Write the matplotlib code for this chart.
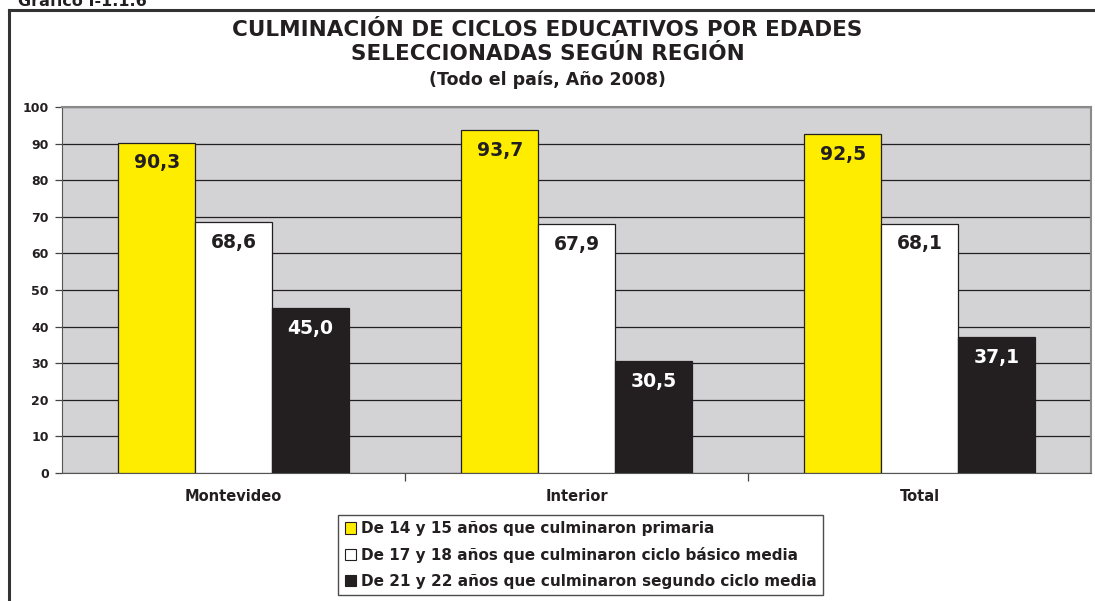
import numpy as np
import matplotlib
matplotlib.use("Agg")
import matplotlib.pyplot as plt
from matplotlib.patches import Patch
from matplotlib.lines import Line2D

plt.rcParams["font.family"] = ["DejaVu Sans"]
plt.rcParams["font.weight"] = "bold"

# datos
regiones = ["Montevideo", "Interior", "Total"]
primaria = [90.3, 93.7, 92.5]
ciclo_basico = [68.6, 67.9, 68.1]
segundo_ciclo = [45.0, 30.5, 37.1]
series_labels = [
    "De 14 y 15 años que culminaron primaria",
    "De 17 y 18 años que culminaron ciclo básico media",
    "De 21 y 22 años que culminaron segundo ciclo media",
]
yticks = list(range(0, 101, 10))

colores = ["#ffed00", "#ffffff", "#231f20"]
colores_texto = ["#231f20", "#231f20", "#ffffff"]

fig = plt.figure(figsize=(10.95, 6.01), dpi=100)
ax = fig.add_axes([62 / 1095, 1 - 473 / 601, (1091 - 62) / 1095, (473 - 107) / 601])

# marco exterior (solo se ven borde superior e izquierdo)
fig.add_artist(Line2D([9 / 1095, 1.0], [1 - 10 / 601] * 2, color="#333333", lw=2.2,
                      transform=fig.transFigure))
fig.add_artist(Line2D([9 / 1095] * 2, [0.0, 1 - 10 / 601], color="#333333", lw=2.2,
                      transform=fig.transFigure))
fig.text(18 / 1095, 1 - 1 / 601, "Gráfico I-1.1.6", fontsize=11.5, fontweight="bold",
         color="#231f20", va="center", ha="left")

ax.set_facecolor("#d3d3d5")
x = np.arange(len(regiones))
w = 0.224
datos = [primaria, ciclo_basico, segundo_ciclo]
for i, (vals, c, tc) in enumerate(zip(datos, colores, colores_texto)):
    pos = x + (i - 1) * w
    ax.bar(pos, vals, width=w, color=c, edgecolor="#231f20", linewidth=0.9, zorder=3,
           label=series_labels[i])
    for p, v in zip(pos, vals):
        ax.annotate(f"{v:.1f}".replace(".", ","), (p, v), xytext=(0, -14.5),
                    textcoords="offset points", ha="center", va="center",
                    fontsize=13.5, fontweight="bold", color=tc, zorder=4)

ax.set_xlim(-0.5, 2.5)
ax.set_ylim(0, 100)
ax.set_yticks(yticks)
ax.set_yticklabels([str(t) for t in yticks], fontsize=9, fontweight="bold", color="#231f20")
ax.yaxis.grid(True, color="#231f20", lw=0.9, zorder=1)
ax.set_axisbelow(True)

ax.set_xticks([0.5, 1.5])
ax.set_xticklabels([])
ax.tick_params(axis="x", length=6, color="#444444", width=0.9)
ax.tick_params(axis="y", length=5, color="#444444", width=0.9, pad=4.5)
for r, xx in zip(regiones, x):
    ax.text(xx, -6.5, r, ha="center", va="center", fontsize=10.5, fontweight="bold",
            color="#231f20", transform=ax.transData)

for s in ["top", "right"]:
    ax.spines[s].set_color("#8a8a8a")
    ax.spines[s].set_linewidth(1.5)
ax.spines["left"].set_color("#555555")
ax.spines["bottom"].set_color("#555555")

fig.text(0.5, 1 - 30 / 601, "CULMINACIÓN DE CICLOS EDUCATIVOS POR EDADES",
         ha="center", va="center", fontsize=15.5, fontweight="bold", color="#231f20")
fig.text(0.5, 1 - 54 / 601, "SELECCIONADAS SEGÚN REGIÓN",
         ha="center", va="center", fontsize=15.5, fontweight="bold", color="#231f20")
fig.text(0.5, 1 - 80 / 601, "(Todo el país, Año 2008)",
         ha="center", va="center", fontsize=12.5, fontweight="bold", color="#231f20")

handles = [Patch(facecolor=c, edgecolor="#231f20", linewidth=0.8) for c in colores]
leg = fig.legend(handles, series_labels, loc="center",
                 bbox_to_anchor=(580.5 / 1095, 1 - 555 / 601),
                 frameon=True, fancybox=False, handlelength=0.75,
                 handleheight=0.75, handletextpad=0.3, labelspacing=0.7,
                 borderpad=0.4, borderaxespad=0, prop={"weight": "bold", "size": 11})
leg.get_frame().set_edgecolor("#231f20")
leg.get_frame().set_linewidth(1.0)
for t in leg.get_texts():
    t.set_color("#231f20")

fig.savefig("out.png", dpi=100)
